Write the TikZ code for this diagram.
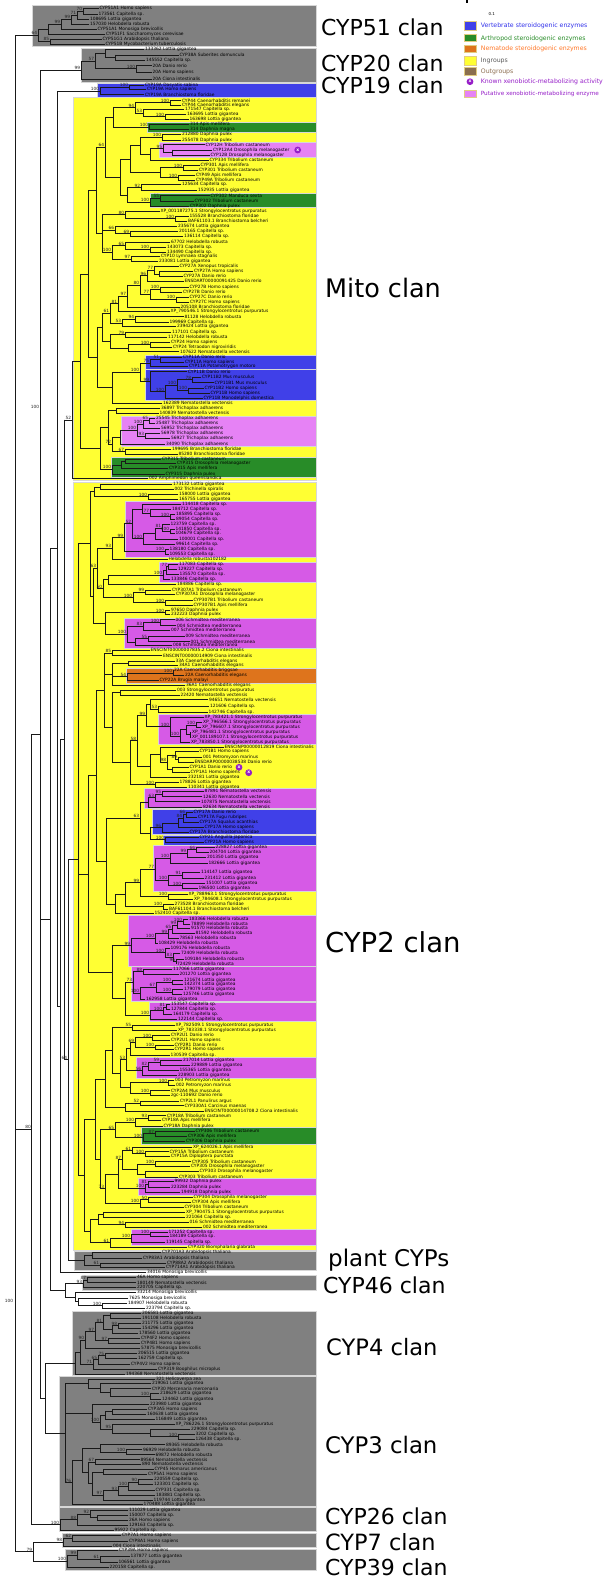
\documentclass[tikz,border=0pt]{standalone}
\usepackage{fontspec}
\setmainfont{DejaVu Sans}
\definecolor{gbox}{RGB}{128,128,128}
\definecolor{ybox}{RGB}{255,255,51}
\definecolor{bbox}{RGB}{64,64,232}
\definecolor{grbox}{RGB}{40,140,40}
\definecolor{pkA}{RGB}{230,130,245}
\definecolor{pkB}{RGB}{214,90,230}
\definecolor{orbox}{RGB}{222,116,28}
\definecolor{edge}{RGB}{215,215,215}
\definecolor{xpurple}{RGB}{150,30,200}
\definecolor{lgblue}{RGB}{50,50,235}
\definecolor{lggreen}{RGB}{40,140,40}
\definecolor{lgorange}{RGB}{255,120,40}
\definecolor{lggray}{RGB}{90,90,90}
\definecolor{lgbrown}{RGB}{140,110,80}
\definecolor{brownsw}{RGB}{139,111,78}
\definecolor{swedge}{RGB}{225,205,130}
\tikzset{
  leaf/.style={anchor=west,inner sep=0pt,xshift=0.8pt,font=\fontsize{4.4}{5}\selectfont,text=black},
  bs/.style={anchor=south east,inner sep=0.3pt,xshift=-0.3pt,font=\fontsize{4.3}{5}\selectfont,text=black!85},
  br/.style={draw=black!90,line width=0.95pt,line cap=rect},
  clade/.style={anchor=base west,inner sep=0pt,font=\fontsize{22}{24}\selectfont,text=black},
  lgtxt/.style={anchor=west,inner sep=0pt,font=\fontsize{6.2}{7}\selectfont},
  sw/.style={draw=swedge,line width=0.6pt},
  xmark/.style={circle,fill=xpurple,inner sep=0pt,minimum size=6.8pt,text=white,font=\fontsize{4.5}{5}\selectfont\bfseries}
}
\newcommand\bx[5]{\path[fill=#1,draw=edge,line width=0.6pt] (#2,#3) rectangle (#4,#5);}
\makeatletter
\newcommand\lf[4]{%
  \expandafter\xdef\csname ny@#1\endcsname{#2}%
  \coordinate (#1) at (#3,#2);%
  \node[leaf] (#1t) at (#3,#2) {#4};%
}
\newcommand\nd[4][]{%
  \gdef\nd@first{}%
  \foreach \ch in {#4}{%
    \ifx\nd@first\@empty\xdef\nd@first{\csname ny@\ch\endcsname}\fi
    \xdef\nd@last{\csname ny@\ch\endcsname}%
  }%
  \pgfmathsetmacro\nd@y{(\nd@first+\nd@last)/2}%
  \expandafter\xdef\csname ny@#2\endcsname{\nd@y}%
  \coordinate (#2) at (#3,\nd@y);%
  \foreach \ch in {#4}{\draw[br] (#3,\csname ny@\ch\endcsname) -- (\ch);}%
  \draw[br] (#3,\nd@first) -- (#3,\nd@last);%
  \if\relax\detokenize{#1}\relax\else\node[bs] at (#3,\nd@y) {#1};\fi
}
\makeatother
\begin{document}
\begin{tikzpicture}[x=1pt,y=-1pt]
\useasboundingbox (0,0) rectangle (603,1578);
\fill[white] (0,0) rectangle (603,1578);
% ---------- coloured boxes ----------
\bx{gbox}{32}{5}{316}{46}
\bx{gbox}{81}{48}{316}{82}
\bx{bbox}{97}{83}{316}{97}
\bx{ybox}{73}{97.7}{316}{480.5}
\bx{grbox}{147}{122}{316}{132.7}
\bx{pkA}{159}{142.7}{316}{157.7}
\bx{grbox}{150}{193.3}{316}{207.3}
\bx{bbox}{145}{355.3}{316}{369}
\bx{bbox}{145}{369.7}{316}{400.3}
\bx{pkA}{121}{416}{316}{446.3}
\bx{grbox}{111.7}{457}{316}{477}
\bx{ybox}{73}{482}{316}{1250.7}
\bx{pkB}{125}{501.3}{316}{557}
\bx{pkB}{159}{562.3}{316}{582.3}
\bx{pkB}{124.7}{618}{316}{648}
\bx{orbox}{126.7}{668.7}{316}{683}
\bx{pkB}{158}{714.7}{316}{744.7}
\bx{pkB}{144.3}{788.7}{316}{808.7}
\bx{bbox}{152.7}{809}{316}{834.7}
\bx{bbox}{163}{835.3}{316}{845.3}
\bx{pkB}{153}{845.7}{316}{891.7}
\bx{pkB}{128.3}{915}{316}{966}
\bx{pkB}{131.7}{966.7}{316}{1001.3}
\bx{pkB}{149.3}{1002.3}{316}{1021.7}
\bx{pkB}{136.7}{1057.7}{316}{1078.3}
\bx{grbox}{141}{1127.7}{316}{1144}
\bx{pkB}{138.3}{1178.3}{316}{1195}
\bx{pkB}{131.7}{1229.3}{316}{1245.3}
\bx{gbox}{74}{1251}{316}{1270}
\bx{gbox}{82.3}{1275.7}{316}{1290}
\bx{gbox}{72.7}{1311}{316}{1375}
\bx{gbox}{59.3}{1376.7}{316}{1506}
\bx{gbox}{59.3}{1507.7}{316}{1531.7}
\bx{gbox}{62.7}{1533.3}{316}{1547.7}
\bx{gbox}{65}{1549.3}{316}{1570.7}
% ---------- leaves ----------
\lf{L1}{8.3}{98.5}{CYP51A1 Homo sapiens}
\lf{L2}{14}{97.5}{173561 Capitella sp.}
\lf{L3}{19}{89}{108695 Lottia gigantea}
\lf{L4}{24}{89}{157030 Helobdella robusta}
\lf{L5}{29}{96.5}{CYP51A1 Monosiga brevicollis}
\lf{L6}{34}{105}{CYP51F1 Saccharomyces cerevisae}
\lf{L7}{39}{101.5}{CYP51G1 Arabidopsis thaliana}
\lf{L8}{44}{104.5}{CYP51B Mycobacterium tuberculosis}
\lf{L9}{49.5}{144}{133362 Lottia gigantea}
\lf{L10}{55}{178.5}{CYP38A Suberites domuncula}
\lf{L11}{60}{145}{145552 Capitella sp.}
\lf{L12}{65.5}{151.5}{20A Danio rerio}
\lf{L13}{72}{151.5}{20A Homo sapiens}
\lf{L14}{79}{151.5}{20A Ciona intestinalis}
\lf{L15}{85.3}{144}{CYP19A Dasyatis sabina}
\lf{L16}{89.7}{146}{CYP19A Homo sapiens}
\lf{L17}{94.7}{144}{CYP19A Branchiostoma floridae}
\lf{L18}{100.7}{181}{CYP44 Caenorhabditis remanei}
\lf{L19}{105}{181}{CYP44 Caenorhabditis elegans}
\lf{L20}{109.3}{184}{171547 Capitella sp.}
\lf{L21}{114.3}{186}{163695 Lottia gigantea}
\lf{L22}{119.3}{188.5}{163698 Lottia gigantea}
\lf{L23}{124.7}{189}{314 Apis mellifera}
\lf{L24}{129.3}{189}{314 Daphnia magna}
\lf{L25}{134.7}{181}{212880 Daphnia pulex}
\lf{L26}{140}{181}{255478 Daphnia pulex}
\lf{L27}{144.7}{204.5}{CYP12H Tribolium castaneum}
\lf{L28}{150}{212}{CYP12A4 Drosophila melanogaster}
\lf{L29}{155.7}{209.5}{CYP12B Drosophila melanogaster}
\lf{L30}{160.3}{208.5}{CYP334 Tribolium castaneum}
\lf{L31}{165.3}{199.5}{CYP301 Apis mellifera}
\lf{L32}{170.3}{198}{CYP301 Tribolium castaneum}
\lf{L33}{175.3}{195}{CYP49 Apis mellifera}
\lf{L34}{180.3}{195}{CYP49A Tribolium castaneum}
\lf{L35}{184.7}{181}{125634 Capitella sp.}
\lf{L36}{190.7}{197}{152935 Lottia gigantea}
\lf{L37}{195.7}{209.5}{CYP302 Manduca sexta}
\lf{L38}{201}{193.5}{CYP302 Tribolium castaneum}
\lf{L39}{206.3}{189}{CYP302 Daphnia pulex}
\lf{L40}{211.3}{159.5}{XP\_001187275.1 Strongylocentrotus purpuratus}
\lf{L41}{216.3}{188.5}{155528 Branchiostoma floridae}
\lf{L42}{221}{187}{BAF61103.1 Branchiostoma belcheri}
\lf{L43}{226.7}{177}{235674 Lottia gigantea}
\lf{L44}{231.3}{178}{201165 Capitella sp.}
\lf{L45}{236}{183}{136114 Capitella sp.}
\lf{L46}{242.3}{170}{67702 Helobdella robusta}
\lf{L47}{247}{166}{143073 Capitella sp.}
\lf{L48}{252}{166}{134490 Capitella sp.}
\lf{L49}{256.7}{160}{CYP10 Lymnaea stagnalis}
\lf{L50}{261.3}{158}{233081 Lottia gigantea}
\lf{L51}{266.7}{178.5}{CYP27A Xenopus tropicalis}
\lf{L52}{271.7}{193}{CYP27A Homo sapiens}
\lf{L53}{276.3}{182.5}{CYP27A Danio rerio}
\lf{L54}{281}{183.5}{ENSDART00000091425 Danio rerio}
\lf{L55}{287}{188.5}{CYP27B Homo sapiens}
\lf{L56}{292}{182}{CYP27B Danio rerio}
\lf{L57}{297}{188.5}{CYP27C Danio rerio}
\lf{L58}{302}{189}{CYP27C Homo sapiens}
\lf{L59}{307}{179.5}{205108 Branchiostoma floridae}
\lf{L60}{311.7}{169.5}{XP\_790546.1 Strongylocentrotus purpuratus}
\lf{L61}{316.7}{183.5}{81128 Helobdella robusta}
\lf{L62}{322}{168.5}{199969 Capitella sp.}
\lf{L63}{326.7}{176}{239424 Lottia gigantea}
\lf{L64}{332}{171}{117101 Capitella sp.}
\lf{L65}{337.3}{167}{117142 Helobdella robusta}
\lf{L66}{342.3}{170}{CYP24 Homo sapiens}
\lf{L67}{347}{172}{CYP24 Tetraodon nigroviridis}
\lf{L68}{351.7}{179}{107622 Nematostella vectensis}
\lf{L69}{357}{182}{CYP11A Danio rerio}
\lf{L70}{362}{184}{CYP11A Homo sapiens}
\lf{L71}{366.7}{188}{CYP11A Potamotrygon motoro}
\lf{L72}{371.7}{187}{CYP11B Danio rerio}
\lf{L73}{377}{201}{CYP11B2 Mus musculus}
\lf{L74}{382.7}{213.5}{CYP11B1 Mus musculus}
\lf{L75}{388}{203.5}{CYP11B2 Homo sapiens}
\lf{L76}{393}{209.5}{CYP11B Homo sapiens}
\lf{L77}{398}{202.5}{CYP11B Monodelphis domestica}
\lf{L78}{403}{162}{162389 Nematostella vectensis}
\lf{L79}{408.3}{160}{36897 Trichoplax adhaerens}
\lf{L80}{413}{158.5}{140839 Nematostella vectensis}
\lf{L81}{418}{155}{25545 Trichoplax adhaerens}
\lf{L82}{423}{155}{25487 Trichoplax adhaerens}
\lf{L83}{428}{160}{56952 Trichoplax adhaerens}
\lf{L84}{433.7}{160}{56978 Trichoplax adhaerens}
\lf{L85}{438.7}{170}{56927 Trichoplax adhaerens}
\lf{L86}{444.3}{165}{34090 Trichoplax adhaerens}
\lf{L87}{449.3}{171}{199695 Branchiostoma floridae}
\lf{L88}{454}{177.5}{85280 Branchiostoma floridae}
\lf{L89}{459}{161}{CYP315 Tribolium castaneum}
\lf{L90}{463.7}{176}{CYP315 Drosophila melanogaster}
\lf{L91}{468.7}{168}{CYP315 Apis mellifera}
\lf{L92}{474}{164.5}{CYP315 Daphnia pulex}
\lf{L93}{478.7}{148}{002 Amphimedon queenslandica}
\lf{L94}{484.7}{172}{173132 Lottia gigantea}
\lf{L95}{489.3}{173.5}{002 Trichinella spiralis}
\lf{L96}{494.3}{178}{158000 Lottia gigantea}
\lf{L97}{499.3}{178}{165755 Lottia gigantea}
\lf{L98}{504.7}{181}{114418 Capitella sp.}
\lf{L99}{509.7}{171}{184712 Capitella sp.}
\lf{L100}{514.3}{175}{185895 Capitella sp.}
\lf{L101}{519.3}{175}{89054 Capitella sp.}
\lf{L102}{524.7}{169.5}{123759 Capitella sp.}
\lf{L103}{529}{174.5}{141850 Capitella sp.}
\lf{L104}{533.7}{174.5}{104679 Capitella sp.}
\lf{L105}{539}{178}{100001 Capitella sp.}
\lf{L106}{544}{175}{99614 Capitella sp.}
\lf{L107}{549}{168.5}{138180 Capitella sp.}
\lf{L108}{554}{168.5}{109553 Capitella sp.}
\lf{L109}{559}{167.5}{Helobdella robusta102182}
\lf{L110}{564}{178}{117083 Capitella sp.}
\lf{L111}{569}{177}{129227 Capitella sp.}
\lf{L112}{574.7}{178.5}{135570 Capitella sp.}
\lf{L113}{579.7}{170}{133846 Capitella sp.}
\lf{L114}{584.3}{176}{184886 Capitella sp.}
\lf{L115}{590}{171}{CYP307A1 Tribolium castaneum}
\lf{L116}{594.7}{175}{CYP307A1 Drosophila melanogaster}
\lf{L117}{600.3}{192.5}{CYP307B1 Tribolium castaneum}
\lf{L118}{605.3}{192.5}{CYP307B1 Apis mellifera}
\lf{L119}{610.7}{170}{97650 Daphnia pulex}
\lf{L120}{614.7}{170}{232223 Daphnia pulex}
\lf{L121}{619.7}{174.5}{006 Schmidtea mediterranea}
\lf{L122}{625.7}{176}{004 Schmidtea mediterranea}
\lf{L123}{630}{170}{007 Schmidtea mediterranea}
\lf{L124}{636}{184.5}{009 Schmidtea mediterranea}
\lf{L125}{641.7}{189.5}{001 Schmidtea mediterranea}
\lf{L126}{645.3}{172}{008 Schmidtea mediterranea}
\lf{L127}{650.3}{149.5}{ENSCINT00000007835.2 Ciona intestinalis}
\lf{L128}{655.7}{162}{ENSCINT00000014909 Ciona intestinalis}
\lf{L129}{661}{174.5}{33A Caenorhabditis elegans}
\lf{L130}{665.3}{178}{34A1 Caenorhabditis elegans}
\lf{L131}{670.7}{173}{22A Caenorhabditis briggsae}
\lf{L132}{675.7}{184}{22A Caenorhabditis elegans}
\lf{L133}{680.7}{158.5}{CYP22A Brugia malayi}
\lf{L134}{685.7}{185}{36A1 Caenorhabditis elegans}
\lf{L135}{690.7}{176}{003 Strongylocentrotus purpuratus}
\lf{L136}{695}{179.5}{22420 Nematostella vectensis}
\lf{L137}{699.7}{208}{94651 Nematostella vectensis}
\lf{L138}{706.7}{209}{121606 Capitella sp.}
\lf{L139}{712.3}{207.5}{142746 Capitella sp.}
\lf{L140}{717.5}{203.5}{XP\_783421.1 Strongylocentrotus purpuratus}
\lf{L141}{722.7}{202}{XP\_796566.1 Strongylocentrotus purpuratus}
\lf{L142}{727.3}{201}{XP\_796607.1 Strongylocentrotus purpuratus}
\lf{L143}{732.3}{191}{XP\_796481.1 Strongylocentrotus purpuratus}
\lf{L144}{737.3}{191}{XP\_001189107.1 Strongylocentrotus purpuratus}
\lf{L145}{742.3}{190}{XP\_783850.1 Strongylocentrotus purpuratus}
\lf{L146}{747}{223.5}{ENSCINP00000012819 Ciona intestinalis}
\lf{L147}{751.7}{198.5}{CYP1B1 Homo sapiens}
\lf{L148}{757}{202}{001 Petromyzon marinus}
\lf{L149}{762}{193.5}{ENSDARP00000038538 Danio rerio}
\lf{L150}{767}{188.5}{CYP1A1 Danio rerio}
\lf{L151}{772}{189.5}{CYP1A1 Homo sapiens}
\lf{L152}{777.3}{187}{232181 Lottia gigantea}
\lf{L153}{782.3}{178.5}{178826 Lottia gigantea}
\lf{L154}{787}{187}{110341 Lottia gigantea}
\lf{L155}{791.3}{203.5}{87891 Nematostella vectensis}
\lf{L156}{796.7}{202}{12630 Nematostella vectensis}
\lf{L157}{801.7}{200}{107875 Nematostella vectensis}
\lf{L158}{807}{202}{82634 Nematostella vectensis}
\lf{L159}{812}{192.5}{CYP17A Danio rerio}
\lf{L160}{817}{197}{CYP17A Fugu rubripes}
\lf{L161}{822.3}{198.5}{CYP17A Squalus acanthias}
\lf{L162}{827.7}{203.5}{CYP17A Homo sapiens}
\lf{L163}{832.3}{188.5}{CYP17A Branchiostoma floridae}
\lf{L164}{837}{198.5}{CYP21 Anguilla japonica}
\lf{L165}{842.3}{203.5}{CYP21A Homo sapiens}
\lf{L166}{847.3}{214.5}{228827 Lottia gigantea}
\lf{L167}{852.3}{208.5}{204704 Lottia gigantea}
\lf{L168}{857.3}{206}{201350 Lottia gigantea}
\lf{L169}{863}{207.5}{182666 Lottia gigantea}
\lf{L170}{872.3}{200}{114147 Lottia gigantea}
\lf{L171}{878.3}{203.5}{231412 Lottia gigantea}
\lf{L172}{883.3}{205}{151007 Lottia gigantea}
\lf{L173}{888.3}{197.5}{196500 Lottia gigantea}
\lf{L174}{894}{187.5}{XP\_788963.1 Strongylocentrotus purpuratus}
\lf{L175}{899}{193}{XP\_784608.1 Strongylocentrotus purpuratus}
\lf{L176}{904}{173.5}{273528 Branchiostoma floridae}
\lf{L177}{909}{168}{BAF61104.1 Branchiostoma belcheri}
\lf{L178}{913.3}{153.5}{152410 Capitella sp.}
\lf{L179}{919.3}{188}{183366 Helobdella robusta}
\lf{L180}{924}{190}{78899 Helobdella robusta}
\lf{L181}{928.3}{190}{91570 Helobdella robusta}
\lf{L182}{933.3}{194.5}{81592 Helobdella robusta}
\lf{L183}{938.3}{178.5}{78563 Helobdella robusta}
\lf{L184}{943.3}{157.5}{108429 Helobdella robusta}
\lf{L185}{948.3}{169.5}{109176 Helobdella robusta}
\lf{L186}{953.3}{180}{72409 Helobdella robusta}
\lf{L187}{959.3}{183.5}{109184 Helobdella robusta}
\lf{L188}{964}{176}{72429 Helobdella robusta}
\lf{L189}{969.3}{172}{117066 Lottia gigantea}
\lf{L190}{974.3}{178.5}{201270 Lottia gigantea}
\lf{L191}{980}{183}{121674 Lottia gigantea}
\lf{L192}{984.3}{183}{142374 Lottia gigantea}
\lf{L193}{989.7}{183}{179079 Lottia gigantea}
\lf{L194}{994.3}{182}{125746 Lottia gigantea}
\lf{L195}{999}{145}{162958 Lottia gigantea}
\lf{L196}{1004.3}{170}{153547 Capitella sp.}
\lf{L197}{1009.7}{170}{127844 Capitella sp.}
\lf{L198}{1014.7}{172}{164179 Capitella sp.}
\lf{L199}{1019.7}{177}{122144 Capitella sp.}
\lf{L200}{1025}{174.5}{XP\_782509.1 Strongylocentrotus purpuratus}
\lf{L201}{1030}{177}{XP\_783338.1 Strongylocentrotus purpuratus}
\lf{L202}{1035.3}{170}{CYP2U1 Danio rerio}
\lf{L203}{1040}{170}{CYP2U1 Homo sapiens}
\lf{L204}{1045.3}{173.5}{CYP2R1 Danio rerio}
\lf{L205}{1049.7}{173.5}{CYP2R1 Homo sapiens}
\lf{L206}{1055}{169.5}{130539 Capitella sp.}
\lf{L207}{1060}{182}{217014 Lottia gigantea}
\lf{L208}{1065}{190}{229889 Lottia gigantea}
\lf{L209}{1070.3}{178.5}{155365 Lottia gigantea}
\lf{L210}{1075.3}{177}{228903 Lottia gigantea}
\lf{L211}{1080.3}{174}{003 Petromyzon marinus}
\lf{L212}{1085}{175}{002 Petromyzon marinus}
\lf{L213}{1090.7}{170}{CYP2A4 Mus musculus}
\lf{L214}{1095.7}{170}{zgc-110692 Danio rerio}
\lf{L215}{1101}{179}{CYP2L1 Panulirus argus}
\lf{L216}{1105.7}{183.5}{CYP330A1 Carcinus maenas}
\lf{L217}{1111.3}{203.5}{ENSCINT00000014708.2 Ciona intestinalis}
\lf{L218}{1115.7}{166}{CYP18A Tribolium castaneum}
\lf{L219}{1120.7}{161}{CYP18A Apis mellifera}
\lf{L220}{1126}{162.5}{CYP18A Daphnia pulex}
\lf{L221}{1131}{194.5}{CYP306 Tribolium castaneum}
\lf{L222}{1136.3}{187}{CYP306 Apis mellifera}
\lf{L223}{1141.7}{185}{CYP306 Daphnia pulex}
\lf{L224}{1147.3}{192}{XP\_624026.1 Apis mellifera}
\lf{L225}{1151.5}{168.5}{CYP15A Tribolium castaneum}
\lf{L226}{1156.3}{170}{CYP15A Diploptera punctata}
\lf{L227}{1161.7}{191}{CYP305 Tribolium castaneum}
\lf{L228}{1166.3}{190}{CYP305 Drosophila melanogaster}
\lf{L229}{1171.7}{198.5}{CYP303 Drosophila melanogaster}
\lf{L230}{1177}{178}{CYP303 Tribolium castaneum}
\lf{L231}{1181.7}{173.5}{99932 Daphnia pulex}
\lf{L232}{1187}{170}{223284 Daphnia pulex}
\lf{L233}{1192}{180}{194918 Daphnia pulex}
\lf{L234}{1197.7}{192.5}{CYP304 Drosophila melanogaster}
\lf{L235}{1202}{191}{CYP304 Apis mellifera}
\lf{L236}{1207}{183.5}{CYP304 Tribolium castaneum}
\lf{L237}{1212.3}{185}{XP\_790475.1 Strongylocentrotus purpuratus}
\lf{L238}{1217.3}{185}{221064 Capitella sp.}
\lf{L239}{1222}{188.5}{016 Schmidtea mediterranea}
\lf{L240}{1227.3}{202}{002 Schmidtea mediterranea}
\lf{L241}{1232}{167.5}{171252 Capitella sp.}
\lf{L242}{1236.7}{168.5}{184189 Capitella sp.}
\lf{L243}{1242}{165}{119145 Capitella sp.}
\lf{L244}{1247.3}{187}{CYP320 Biomphalaria glabrata}
\lf{L245}{1252.7}{161}{CYP701A3 Arabidopsis thaliana}
\lf{L246}{1258}{142}{CYP83A1 Arabidopsis thaliana}
\lf{L247}{1263}{166}{CYP88A2 Arabidopsis thaliana}
\lf{L248}{1267.3}{165}{CYP714A1 Arabidopsis thaliana}
\lf{L249}{1272.3}{146}{34016 Monosiga brevicollis}
\lf{L250}{1277.7}{136}{46A Homo sapiens}
\lf{L251}{1282.7}{136}{180149 Nematostella vectensis}
\lf{L252}{1287.3}{136}{220705 Capitella sp.}
\lf{L253}{1292.7}{136}{33214 Monosiga brevicollis}
\lf{L254}{1298}{128}{7625 Monosiga brevicollis}
\lf{L255}{1303}{127}{184907 Helobdella robusta}
\lf{L256}{1308.3}{145}{223794 Capitella sp.}
\lf{L257}{1313.3}{141}{206581 Lottia gigantea}
\lf{L258}{1318}{141}{191108 Helobdella robusta}
\lf{L259}{1323.3}{141}{211775 Lottia gigantea}
\lf{L260}{1328.3}{141}{154296 Lottia gigantea}
\lf{L261}{1333.3}{138}{178560 Lottia gigantea}
\lf{L262}{1338}{140}{CYP4F2 Homo sapiens}
\lf{L263}{1343.3}{140}{CYP4B1 Homo sapiens}
\lf{L264}{1348.7}{140}{57875 Monosiga brevicollis}
\lf{L265}{1353.3}{137}{206515 Lottia gigantea}
\lf{L266}{1358.3}{137}{162759 Capitella sp.}
\lf{L267}{1364}{130}{CYP4V2 Homo sapiens}
\lf{L268}{1369}{157}{CYP319 Boophilus microplus}
\lf{L269}{1374}{125}{194368 Nematostella vectensis}
\lf{L270}{1379}{155}{321 Helicoverpa zea}
\lf{L271}{1383.7}{151}{219061 Lottia gigantea}
\lf{L272}{1388.7}{151}{CYP30 Mercenaria mercenaria}
\lf{L273}{1393.3}{159}{218629 Lottia gigantea}
\lf{L274}{1399.3}{161}{124462 Lottia gigantea}
\lf{L275}{1404}{149}{223980 Lottia gigantea}
\lf{L276}{1409.3}{147}{CYP3A5 Homo sapiens}
\lf{L277}{1414.3}{146}{160638 Lottia gigantea}
\lf{L278}{1419.3}{154.5}{116849 Lottia gigantea}
\lf{L279}{1424.7}{174.5}{XP\_786226.1 Strongylocentrotus purpuratus}
\lf{L280}{1429.7}{190}{229084 Capitella sp.}
\lf{L281}{1434.3}{194.5}{3202 Capitella sp.}
\lf{L282}{1439.3}{194.5}{126438 Capitella sp.}
\lf{L283}{1444.7}{165}{89365 Helobdella robusta}
\lf{L284}{1449.7}{142}{96929 Helobdella robusta}
\lf{L285}{1454.7}{154.5}{69872 Helobdella robusta}
\lf{L286}{1459.7}{139.5}{89564 Nematostella vectensis}
\lf{L287}{1464.3}{141}{890 Nematostella vectensis}
\lf{L288}{1469.3}{153.5}{CYP45 Homarus americanus}
\lf{L289}{1474.7}{147}{CYP5A1 Homo sapiens}
\lf{L290}{1479.7}{153}{220559 Capitella sp.}
\lf{L291}{1484.7}{153}{123301 Capitella sp.}
\lf{L292}{1490}{154.5}{CYP331 Capitella sp.}
\lf{L293}{1495.3}{155}{183881 Capitella sp.}
\lf{L294}{1500}{152.5}{119744 Lottia gigantea}
\lf{L295}{1504.7}{142.5}{170488 Lottia gigantea}
\lf{L296}{1510.3}{128}{111029 Lottia gigantea}
\lf{L297}{1515.3}{128}{150007 Capitella sp.}
\lf{L298}{1520}{128}{26A Homo sapiens}
\lf{L299}{1525.3}{128}{129163 Capitella sp.}
\lf{L300}{1530}{113.5}{95922 Capitella sp.}
\lf{L301}{1535.7}{121}{CYP7A1 Homo sapiens}
\lf{L302}{1541}{128}{CYP8A1 Homo sapiens}
\lf{L303}{1546}{112}{004 Ciona intestinalis}
\lf{L304}{1550.7}{118}{CYP39A Homo sapiens}
\lf{L305}{1556.7}{129.5}{137877 Lottia gigantea}
\lf{L306}{1562}{117.5}{106561 Lottia gigantea}
\lf{L307}{1567.3}{108.5}{220158 Capitella sp.}
% ---------- internal nodes ----------
\nd[70]{n1}{83}{L1,L2}
\nd[71]{n2}{77}{n1,L3}
\nd[99]{n3}{71}{n2,L4}
\nd[99]{n4}{61}{n3,L5}
\nd{n5}{48}{n4,L6}
\nd[85]{n7}{50}{L7,L8}
\nd[64]{C51}{38}{n5,n7}
\nd{g1}{115}{L10,L11}
\nd{h1}{105}{L9,g1}
\nd[100]{i1}{136}{L12,L13}
\nd[57]{j1}{95}{h1,i1}
\nd[99]{C20}{81}{j1,L14}
\nd[100]{k19}{129}{L15,L16}
\nd[100]{C19}{100}{k19,L17}
\nd[100]{m1}{170}{L18,L19}
\nd[100]{m2}{165}{L21,L22}
\nd[53]{m3}{143}{L20,m2}
\nd[94]{m4}{135}{m1,m3}
\nd[100]{m5}{149}{L23,L24}
\nd{m6}{113}{m4,m5}
\nd[100]{m7}{162}{L25,L26}
\nd{m8}{172}{L28,L29}
\nd[95]{m9}{163}{L27,m8}
\nd{m10}{150}{m9,L30}
\nd{m11}{140}{m7,m10}
\nd[100]{m12}{183}{L31,L32}
\nd[100]{m13}{178}{L33,L34}
\nd{m14}{160}{m12,m13}
\nd{m15}{130}{m11,m14}
\nd[92]{m16}{141}{L35,L36}
\nd[55]{m17}{160}{L37,L38}
\nd[100]{m18}{150}{m17,L39}
\nd{m19}{127}{m16,m18}
\nd{m20}{120}{m15,m19}
\nd[64]{M1}{105}{m6,m20}
\nd[100]{m23}{175}{L41,L42}
\nd[80]{m24}{125}{L40,m23}
\nd[69]{m25}{130}{L44,L45}
\nd[66]{m26}{115}{L43,m25}
\nd[100]{m27}{150}{L47,L48}
\nd[65]{m28}{125}{L46,m27}
\nd[97]{m29}{131}{L49,L50}
\nd[100]{m30}{112}{m28,m29}
\nd{Ma}{102}{m24,m26,m30}
\nd{Mb}{96}{M1,Ma}
\nd{m31}{159}{L52,L53}
\nd[77]{m32}{154}{L51,m31}
\nd[96]{m33}{147}{m32,L54}
\nd[100]{m34}{160}{L55,L56}
\nd[100]{m35}{176}{L57,L58}
\nd[77]{m36}{150}{m34,m35}
\nd[80]{m37}{140}{m33,m36}
\nd[97]{m38}{127}{m37,L59}
\nd[81]{m39}{118}{m38,L60}
\nd[94]{m40}{135}{L61,L62}
\nd[53]{m41}{122}{m40,L63}
\nd[61]{m42}{110}{m39,m41}
\nd[79]{m43}{125}{L64,L65}
\nd[100]{m44}{150}{L66,L67}
\nd{m45}{128}{m44,L68}
\nd{m46}{110}{m43,m45}
\nd{m47}{102}{m42,m46}
\nd[51]{m48}{160}{L69,L70}
\nd[75]{m49}{150}{m48,L71}
\nd[78]{m50}{192}{L73,L74}
\nd[100]{m51}{188}{L75,L76}
\nd[100]{m52}{177}{m50,m51}
\nd[100]{m53}{165}{m52,L77}
\nd[99]{m54}{150}{L72,m53}
\nd[100]{m55}{140}{m49,m54}
\nd{m56}{112}{m55,L78}
\nd{Mc}{97}{m47,m56}
\nd{Md}{88}{Mb,Mc}
\nd{m64}{116}{L79,L80}
\nd[65]{m57}{149}{L81,L82}
\nd[100]{m58}{143}{m57,L83}
\nd[93]{m59}{145}{L84,L85}
\nd[100]{m60}{137}{m58,m59}
\nd{m61}{120}{m60,L86}
\nd[67]{m62}{125}{L87,L88}
\nd[72]{m63}{112}{m61,m62}
\nd{m65}{108}{m64,m63}
\nd{m66}{125}{L89,L90}
\nd{m67}{121}{m66,L91}
\nd[100]{m68}{112}{m67,L92}
\nd{Me}{100}{m65,m68}
\nd{Mf}{80}{Md,Me}
\nd[52]{Mito}{72}{Mf,L93}
\nd{c1}{100}{L94,L95}
\nd[100]{c2}{148}{L96,L97}
\nd{k1}{94}{c1,c2}
\nd[100]{c3}{170}{L100,L101}
\nd[77]{c4}{150}{L99,c3}
\nd{c5}{142}{L98,c4}
\nd[100]{c6}{170}{L103,L104}
\nd[81]{c7}{162}{L102,c6}
\nd{c8}{155}{c7,L105}
\nd[100]{c9}{143}{c8,L106}
\nd[52]{c10}{132}{c5,c9}
\nd[100]{c11}{165}{L107,L108}
\nd[99]{c12}{124}{c10,c11}
\nd[93]{c13}{112}{c12,L109}
\nd[77]{c14}{168}{L110,L111}
\nd{c15}{166}{c14,L112}
\nd[100]{c16}{163}{c15,L113}
\nd{c17}{108}{c16,L114}
\nd[99]{c19}{145}{L115,L116}
\nd[100]{c20}{165}{L117,L118}
\nd[100]{c21}{133}{c19,c20}
\nd[50]{c22}{103}{c17,c21}
\nd[63]{c23}{97}{c13,c22}
\nd[100]{c24}{165}{L119,L120}
\nd[100]{c25}{160}{L121,L122}
\nd[83]{c26}{143}{c25,L123}
\nd[55]{c27}{148}{L124,L125}
\nd{c28}{135}{c27,L126}
\nd[100]{c29}{127}{c26,c28}
\nd{c30}{105}{c24,c29}
\nd{k2}{93}{c23,c30}
\nd{KA}{90}{k1,k2}
\nd[85]{c31}{112}{L127,L128}
\nd{c34}{128}{L129,L130}
\nd[100]{c32}{173}{L131,L132}
\nd[54]{c33}{127}{c32,L133}
\nd{c35}{112}{c34,c33,L134}
\nd{c36}{120}{L135,L136}
\nd[53]{c37}{158}{L138,L139}
\nd{c38}{150}{L137,c37}
\nd[100]{c39}{196}{L141,L142}
\nd{c40}{190}{L143,L144}
\nd{c41}{186}{c39,c40}
\nd[100]{c42}{180}{c41,L145}
\nd[100]{c43}{170}{L140,c42}
\nd[99]{c44}{146}{c38,c43}
\nd[89]{c45}{178}{L148,L149}
\nd{c46}{175}{L147,c45}
\nd{c47}{172}{L150,L151}
\nd[98]{c48}{167}{c46,c47}
\nd{c49}{160}{L146,c48}
\nd{c50}{150}{c49,L152}
\nd[58]{c53}{137}{c44,c50}
\nd[100]{c51}{155}{L153,L154}
\nd{c54}{130}{c53,c51}
\nd{c78}{112}{c36,c54}
\nd{KB}{104}{c31,c35,c78}
\nd[95]{c55}{162}{L155,L156}
\nd[63]{c56}{155}{c55,L157}
\nd{c57}{148}{c56,L158}
\nd[66]{c58}{186}{L159,L160}
\nd[84]{c59}{183}{c58,L161}
\nd{c60}{178}{c59,L162}
\nd[96]{c61}{162}{c60,L163}
\nd[100]{c62}{165}{L164,L165}
\nd{c63}{150}{c61,c62}
\nd[63]{c64}{140}{c57,c63}
\nd[66]{c65}{196}{L166,L167}
\nd[99]{c66}{187}{c65,L168}
\nd[100]{c67}{170}{c66,L169}
\nd[91]{c69}{182}{L170,L171}
\nd[100]{c68}{182}{L172,L173}
\nd[100]{c70}{168}{c69,c68}
\nd[77]{c71}{155}{c67,c70}
\nd[100]{c72}{168}{L174,L175}
\nd[99]{c73}{140}{c71,c72}
\nd[100]{c74}{163}{L176,L177}
\nd{c75}{125}{c73,c74}
\nd{c76}{115}{c75,L178}
\nd{c77}{106}{c64,c76}
\nd{KC}{96}{KB,c77}
\nd[100]{d1}{183}{L179,L180}
\nd[99]{d2}{177}{d1,L181}
\nd[65]{d3}{172}{d2,L182}
\nd[99]{d4}{168}{d3,L183}
\nd[100]{d5}{155}{d4,L184}
\nd[96]{d6}{176}{L187,L188}
\nd[83]{d7}{173}{L186,d6}
\nd[100]{d8}{165}{L185,d7}
\nd[99]{d9}{131}{d5,d8}
\nd[88]{e1}{143}{L189,L190}
\nd[100]{e2}{172}{L191,L192}
\nd[100]{e3}{172}{L193,L194}
\nd[67]{e4}{156}{e2,e3}
\nd[100]{e5}{140}{e4,L195}
\nd[73]{e6}{133}{e1,e5}
\nd[81]{e7}{166}{L196,L197}
\nd[100]{e8}{163}{e7,L198}
\nd[100]{e9}{150}{e8,L199}
\nd{e10}{125}{e6,e9}
\nd{KD}{112}{d9,e10}
\nd{KE}{88}{KC,KD}
\nd[55]{e11}{132}{L200,L201}
\nd[100]{e12}{152}{L202,L203}
\nd[100]{e13}{155}{L204,L205}
\nd[69]{e14}{135}{e12,e13}
\nd{e15}{130}{e14,L206}
\nd[59]{e16}{160}{L207,L208}
\nd[82]{e17}{148}{e16,L209}
\nd[56]{e18}{142}{e17,L210}
\nd[53]{e19}{126}{e15,e18}
\nd[100]{e20}{168}{L211,L212}
\nd[100]{e21}{150}{L213,L214}
\nd{e22}{130}{e20,e21}
\nd{e23}{120}{e19,e22}
\nd{KF}{112}{e11,e23}
\nd[52]{e24}{140}{L215,L216}
\nd{e25}{125}{e24,L217}
\nd{KH}{105}{KF,e25}
\nd[93]{e26}{148}{L218,L219}
\nd[100]{e27}{135}{e26,L220}
\nd[87]{e28}{155}{L221,L222}
\nd[100]{e29}{143}{e28,L223}
\nd[65]{e30}{115}{e27,e29}
\nd[100]{e31}{145}{L225,L226}
\nd[61]{e32}{132}{L224,e31}
\nd[100]{e33}{155}{L227,L228}
\nd{e34}{145}{L229,L230}
\nd{e35}{137}{e33,e34}
\nd[87]{e36}{122}{e32,e35}
\nd[81]{e37}{148}{L231,L232}
\nd[100]{e38}{145}{e37,L233}
\nd{e39}{118}{e36,e38}
\nd[50]{e40}{148}{L234,L235}
\nd[100]{e41}{140}{e40,L236}
\nd[73]{e42}{105}{e39,e41}
\nd{e43}{100}{e30,e42}
\nd{KI}{95}{KH,e43}
\nd{e44}{103}{L237,L238}
\nd[94]{e45}{125}{L239,L240}
\nd[100]{e46}{150}{L241,L242}
\nd[100]{e47}{131}{e46,L243}
\nd[61]{e48}{110}{e47,L244}
\nd{KJ}{98}{e44,e45}
\nd{KK}{90}{KJ,e48}
\nd{KL}{84}{KI,KK}
\nd{CYP2}{78}{KA,KE,KL}
\nd{p2}{92}{L245,L246}
\nd[61]{p1}{100}{L247,L248}
\nd{p3}{84}{p2,p1}
\nd[64]{BIG}{68}{CYP2,p3}
\nd{MB}{64}{Mito,BIG}
\nd{N60}{60}{MB,L249}
\nd{N57}{57}{C19,N60}
\nd[87]{q1}{87}{L250,L251}
\nd[93]{q2}{83}{q1,L252}
\nd[100]{q3}{102}{L255,L256}
\nd{q4}{78}{L254,q3}
\nd{q5}{75}{L253,q4}
\nd{q6}{65}{q2,q5}
\nd{N50}{50}{N57,q6}
\nd{r1}{110}{L257,L258}
\nd[98]{r2}{118}{L259,L260}
\nd{r3}{112}{r2,L261}
\nd[81]{r4}{103}{r1,r3}
\nd[97]{r5}{108}{L262,L263}
\nd[97]{r6}{95}{r4,r5}
\nd[90]{r7}{85}{r6,L264}
\nd[75]{r8}{105}{L265,L266}
\nd[65]{r9}{98}{r8,L267}
\nd[71]{r10}{93}{r9,L268}
\nd{r11}{80}{r7,r10}
\nd{r12}{75}{r11,L269}
\nd[100]{s1}{150}{L273,L274}
\nd{s2}{110}{L272,s1}
\nd{s3}{100}{L271,s2}
\nd{s24}{88}{L270,s3}
\nd{s4}{112}{L276,L277}
\nd{s5}{105}{s4,L278}
\nd[100]{s6}{178}{L281,L282}
\nd{s7}{150}{L280,s6}
\nd[95]{s8}{112}{L279,s7}
\nd[100]{s9}{100}{s5,s8}
\nd{s10}{92}{L275,s9}
\nd[100]{s11}{126}{L284,L285}
\nd{s12}{100}{L283,s11}
\nd[67]{s13}{95}{L286,L287}
\nd{s14}{103}{L288,L289}
\nd[90]{s15}{138}{L290,L291}
\nd[100]{s16}{128}{s15,L292}
\nd[93]{s17}{118}{s16,L293}
\nd[97]{s18}{103}{s17,L294}
\nd{s19}{92}{s14,s18}
\nd{s20}{88}{s13,s19}
\nd{s21}{82}{s12,s20}
\nd[76]{s22}{72}{s21,L295}
\nd{C3}{65}{s24,s10,s22}
\nd{N45}{45}{r12,C3}
\nd{N40}{40}{C20,N50,N45}
\nd{t1}{97}{L297,L298}
\nd[92]{t2}{90}{L296,t1}
\nd[88]{t3}{77}{t2,L299}
\nd[100]{t4}{60}{t3,L300}
\nd[80]{N32}{31.7}{N40,t4}
\nd[62]{u1}{72}{L301,L302}
\nd[98]{u2}{63}{u1,L303}
\nd[61]{v1}{100}{L305,L306}
\nd[99]{v2}{77}{L304,v1}
\nd[100]{v3}{67}{v2,L307}
\nd[79]{u3}{33}{u2,v3}
\nd{R}{15}{C51,N32,u3}
\node[bs] (lab100a) at (14,1303) {100};
\node[bs] (lab100b) at (40,409) {100};
% ---------- xenobiotic markers ----------
\node[xmark] (x1) at (297.7,150) {x};
\node[xmark] (x2) at (239,767.3) {x};
\node[xmark] (x3) at (248.7,772.7) {x};
% ---------- clade labels ----------
\node[clade] (cl51) at (321,36) {CYP51 clan};
\node[clade] (cl20) at (321,71.7) {CYP20 clan};
\node[clade] (cl19) at (321,93.3) {CYP19 clan};
\node[clade,font=\fontsize{25.5}{28}\selectfont] (clmito) at (325,298) {Mito clan};
\node[clade,font=\fontsize{27.5}{30}\selectfont] (cl2) at (325,952) {CYP2 clan};
\node[clade,font=\fontsize{23}{25}\selectfont] (clpl) at (328,1266) {plant CYPs};
\node[clade] (cl46) at (323,1293) {CYP46 clan};
\node[clade,font=\fontsize{22.6}{25}\selectfont] (cl4) at (326,1355) {CYP4 clan};
\node[clade,font=\fontsize{22.8}{25}\selectfont] (cl3) at (325,1453) {CYP3 clan};
\node[clade] (cl26) at (325,1524) {CYP26 clan};
\node[clade,font=\fontsize{22.4}{25}\selectfont] (cl7) at (325,1550) {CYP7 clan};
\node[clade] (cl39) at (325,1575) {CYP39 clan};
% ---------- legend ----------
\draw[line width=1.2pt] (467,0) -- (467,3.3);
\node[anchor=center,inner sep=0pt,font=\fontsize{4}{5}\selectfont] (scale) at (491.7,14) {0.1};
\path[sw,fill=bbox] (464.3,21.7) rectangle (476,30);
\node[lgtxt,text=lgblue] (lg1) at (480.7,26) {Vertebrate steroidogenic enzymes};
\path[sw,fill=grbox] (464.3,34.3) rectangle (476,41.7);
\node[lgtxt,text=lggreen] (lg2) at (480.7,38.3) {Arthropod steroidogenic enzymes};
\path[sw,fill=orbox] (464.3,45) rectangle (476,52.7);
\node[lgtxt,text=lgorange] (lg3) at (480.7,49) {Nematode steroidogenic enzymes};
\path[sw,fill=ybox] (464.3,56.7) rectangle (476,65);
\node[lgtxt,text=lggray] (lg4) at (480.7,61) {Ingroups};
\path[sw,fill=brownsw] (464.3,67.7) rectangle (476,75);
\node[lgtxt,text=lgbrown] (lg5) at (480.7,71.5) {Outgroups};
\node[xmark] (lgx) at (470,81.7) {x};
\node[lgtxt,text=xpurple] (lg6) at (480.7,82) {Known xenobiotic-metabolizing activity};
\path[sw,fill=pkA] (464.3,90) rectangle (476,97.7);
\node[lgtxt,text=xpurple,font=\fontsize{5.7}{7}\selectfont] (lg7) at (480.7,94) {Putative xenobiotic-metabolizing enzyme};
\end{tikzpicture}
\end{document}
